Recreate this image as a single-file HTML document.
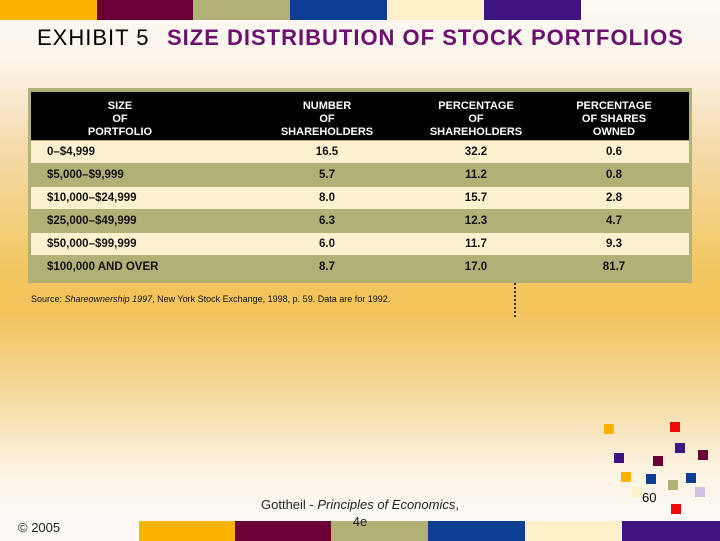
<!DOCTYPE html>
<html><head><meta charset="utf-8">
<style>
html,body{margin:0;padding:0}
body{width:720px;height:540px;position:relative;overflow:hidden;font-family:"Liberation Sans",sans-serif;
background:linear-gradient(to bottom,#fdfaf5 0px,#fcf5ea 60px,#f5dcb0 140px,#f2c75f 270px,#f2c35a 310px,#f5d89a 390px,#fbf0dc 460px,#fdfaf5 510px,#fdfaf5 540px)}
.bar{position:absolute;height:20px}
.sq{position:absolute;width:10px;height:10px}
#tbl{position:absolute;left:28px;top:88px;width:664px;height:195px;background:#b1b076}
.hdr{position:absolute;left:3px;top:4px;width:658px;height:48px;background:#000}
.h{position:absolute;color:#fff;font-weight:bold;font-size:11px;line-height:13px;text-align:center;top:8px;width:140px}
.row{position:absolute;left:3px;width:658px;height:22px}
.c{position:absolute;font-weight:bold;font-size:11.5px;line-height:22px;color:#111}
.n{width:100px;text-align:center}
</style></head><body>
<div id="topbars"></div>
<div style="position:absolute;left:37px;top:25px;font-size:22px;letter-spacing:1px;color:#000">EXHIBIT 5</div>
<div style="position:absolute;left:167px;top:25px;font-size:22px;font-weight:bold;color:#6d0f6f;letter-spacing:1px;white-space:nowrap">SIZE DISTRIBUTION OF STOCK PORTFOLIOS</div>
<div id="tbl">
<div class="hdr">
<div class="h" style="left:19px">SIZE<br>OF<br>PORTFOLIO</div>
<div class="h" style="left:226px">NUMBER<br>OF<br>SHAREHOLDERS</div>
<div class="h" style="left:375px">PERCENTAGE<br>OF<br>SHAREHOLDERS</div>
<div class="h" style="left:513px">PERCENTAGE<br>OF SHARES<br>OWNED</div>
</div>
</div>
<div style="position:absolute;left:31px;top:294px;font-size:9px;color:#111">Source: <i>Shareownership 1997</i>, New York Stock Exchange, 1998, p. 59. Data are for 1992.</div>
<div style="position:absolute;left:514px;top:283px;width:0;height:34px;border-left:2px dotted #333"></div>
<div id="squares"></div>
<div style="position:absolute;left:642px;top:490px;font-size:13px;color:#000">60</div>
<div style="position:absolute;left:18px;top:520px;font-size:13px;color:#222">© 2005</div>
<div id="botbars"></div>
<div style="position:absolute;left:240px;top:496px;width:240px;text-align:center;font-size:13px;line-height:17px;color:#222;z-index:2">Gottheil - <i>Principles of Economics</i>,<br>4e</div>
<script>
var categories=["0–$4,999","$5,000–$9,999","$10,000–$24,999","$25,000–$49,999","$50,000–$99,999","$100,000 AND OVER"];
var numShareholders=["16.5","5.7","8.0","6.3","6.0","8.7"];
var pctShareholders=["32.2","11.2","15.7","12.3","11.7","17.0"];
var pctShares=["0.6","0.8","2.8","4.7","9.3","81.7"];
var tbl=document.getElementById('tbl');
for(var i=0;i<categories.length;i++){
  var r=document.createElement('div');r.className='row';
  
  
  r.style.top=(53+i*23)+'px';
  r.style.background=(i%2==0)?'#fdf2cf':'#b1b076';
  var cells=[[categories[i],16,''],[numShareholders[i],246,'n'],[pctShareholders[i],395,'n'],[pctShares[i],533,'n']];
  for(var j=0;j<4;j++){
    var c=document.createElement('div');c.className='c '+cells[j][2];
    
    
    c.style.left=cells[j][1]+'px';c.textContent=cells[j][0];r.appendChild(c);
  }
  tbl.appendChild(r);
}
var colors=["#fbb300","#6b0036","#b1b076","#0c3f94","#fdf1c9","#401480"];
var tb=document.getElementById('topbars');
var tx=[0,97,193,290,387,484,581];
for(var k=0;k<6;k++){var b=document.createElement('div');b.className='bar';


b.style.left=tx[k]+'px';b.style.top='0px';b.style.width=(tx[k+1]-tx[k])+'px';b.style.background=colors[k];tb.appendChild(b);}
var bb=document.getElementById('botbars');
var bx=[139,235,331,428,525,622,720];
for(var k=0;k<6;k++){var b=document.createElement('div');b.className='bar';


b.style.left=bx[k]+'px';b.style.top='521px';b.style.width=(bx[k+1]-bx[k])+'px';b.style.background=colors[k];bb.appendChild(b);}
var sqs=[[604,424,"#fbb300"],[670,422,"#f00a0a"],[614,453,"#401480"],[675,443,"#401480"],[653,456,"#6b0036"],[698,450,"#6b0036"],[621,472,"#fbb300"],[646,474,"#0c3f94"],[668,480,"#b1b076"],[686,473,"#0c3f94"],[695,487,"#cfc4e2"],[632,487,"#fdf1c9"],[671,504,"#f00a0a"]];
var sd=document.getElementById('squares');
sqs.forEach(function(s){var d=document.createElement('div');d.className='sq';


d.style.left=s[0]+'px';d.style.top=s[1]+'px';d.style.background=s[2];sd.appendChild(d);});
</script>
</body></html>
